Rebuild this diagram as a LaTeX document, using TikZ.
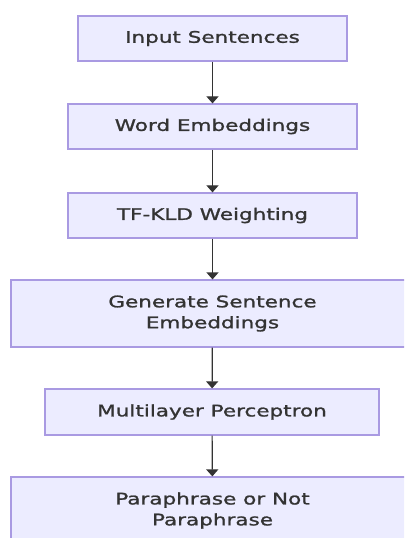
\documentclass[tikz,border=0pt]{standalone}
\usepackage{fontspec}
\setmainfont[FakeStretch=1.35,FakeBold=1.3]{DejaVu Sans}
\usetikzlibrary{arrows.meta}
\definecolor{boxfill}{HTML}{ECECFF}
\definecolor{boxline}{HTML}{A99AE2}
\definecolor{ink}{HTML}{333333}
\begin{document}
\begin{tikzpicture}[x=1bp,y=-1bp,
  box/.style={draw=boxline,fill=boxfill,line width=1.2bp,inner sep=0pt,align=center,
    text=ink,font=\fontsize{16}{21}\selectfont},
  link/.style={draw=ink,line width=1.2bp,-{Triangle[length=7bp,width=12bp]}}]
\useasboundingbox (0,0) rectangle (404,538);
\begin{scope}
\clip (0,0) rectangle (404,538);
\node[box,minimum width=269bp,minimum height=45bp] (a) at (212.5,38.5) {Input Sentences};
\node[box,minimum width=289bp,minimum height=45bp] (b) at (212.5,126.5) {Word Embeddings};
\node[box,minimum width=289bp,minimum height=45bp] (c) at (212.5,215.5) {TF-KLD Weighting};
\node[box,minimum width=403bp,minimum height=67bp] (d) at (212.5,313.5) {Generate Sentence\\Embeddings};
\node[box,minimum width=334bp,minimum height=46bp] (e) at (212,412) {Multilayer Perceptron};
\node[box,minimum width=403bp,minimum height=67bp] (f) at (212.5,510.5) {Paraphrase or Not\\Paraphrase};
\end{scope}
\draw[link] (a) -- (b);
\draw[link] (b) -- (c);
\draw[link] (c) -- (d);
\draw[link] (d) -- (e);
\draw[link] (e) -- (f);
\end{tikzpicture}
\end{document}
